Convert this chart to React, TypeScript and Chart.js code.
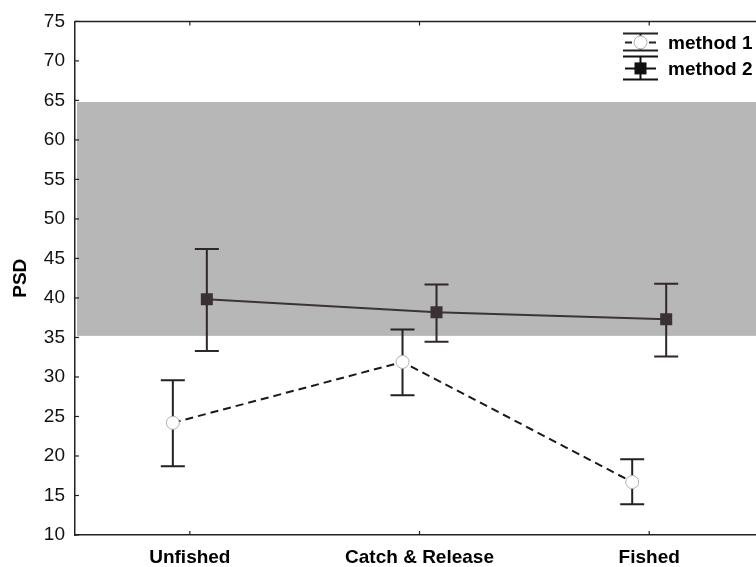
import React, { useEffect, useRef } from "react";
import { Chart, registerables } from "chart.js";

Chart.register(...registerables);

const categories = ["Unfished", "Catch & Release", "Fished"];
const seriesNames = ["method 1", "method 2"];
const method1Mean = [24.2, 31.9, 16.7];
const method1Low = [18.7, 27.7, 13.9];
const method1High = [29.6, 36.0, 19.6];
const method2Mean = [39.85, 38.2, 37.3];
const method2Low = [33.3, 34.45, 32.6];
const method2High = [46.2, 41.7, 41.8];
const bandRange = [35.2, 64.8];
const yTicks = [10, 15, 20, 25, 30, 35, 40, 45, 50, 55, 60, 65, 70, 75];

const DODGE = 0.074;
const FONT = "'Liberation Sans', Arial, sans-serif";

const series = [
  { mean: method1Mean, low: method1Low, high: method1High, off: -DODGE, color: "#222222" },
  { mean: method2Mean, low: method2Low, high: method2High, off: DODGE, color: "#2f2729" },
];

const decor = {
  id: "decor",
  beforeDatasetsDraw(chart: any) {
    const { ctx, chartArea, scales } = chart;
    const { left, right, top, bottom } = chartArea;
    const x = scales.x;
    const y = scales.y;
    ctx.save();
    // band
    const yb1 = y.getPixelForValue(bandRange[1]);
    const yb0 = y.getPixelForValue(bandRange[0]);
    ctx.fillStyle = "#b7b7b7";
    ctx.fillRect(left + 2, yb1, right - left - 2, yb0 - yb1);
    // top border
    ctx.strokeStyle = "#222";
    ctx.lineWidth = 1.5;
    ctx.beginPath();
    ctx.moveTo(left, top);
    ctx.lineTo(right, top);
    ctx.stroke();
    // inward ticks
    ctx.lineWidth = 1.2;
    yTicks.forEach((v) => {
      const py = y.getPixelForValue(v);
      ctx.beginPath();
      ctx.moveTo(left, py);
      ctx.lineTo(left + 4, py);
      ctx.stroke();
    });
    categories.forEach((_, i) => {
      const px = x.getPixelForValue(i);
      ctx.beginPath();
      ctx.moveTo(px, bottom);
      ctx.lineTo(px, bottom - 4);
      ctx.moveTo(px, top);
      ctx.lineTo(px, top + 4);
      ctx.stroke();
    });
    // error bars
    series.forEach((s) => {
      ctx.strokeStyle = s.color;
      ctx.lineWidth = 2;
      s.mean.forEach((_, i) => {
        const px = x.getPixelForValue(i + s.off);
        const pl = y.getPixelForValue(s.low[i]);
        const ph = y.getPixelForValue(s.high[i]);
        ctx.beginPath();
        ctx.moveTo(px, pl);
        ctx.lineTo(px, ph);
        ctx.moveTo(px - 12, pl);
        ctx.lineTo(px + 12, pl);
        ctx.moveTo(px - 12, ph);
        ctx.lineTo(px + 12, ph);
        ctx.stroke();
      });
    });
    ctx.restore();
  },
  afterDraw(chart: any) {
    const { ctx, chartArea } = chart;
    const { right, top } = chartArea;
    ctx.save();
    const x0 = right - 133;
    const x1 = right - 98;
    const xc = (x0 + x1) / 2;
    // method 1 legend icon
    ctx.strokeStyle = "#222";
    ctx.lineWidth = 2;
    const c1 = top + 21;
    ctx.beginPath();
    ctx.moveTo(x0, c1 - 9);
    ctx.lineTo(x1, c1 - 9);
    ctx.moveTo(x0, c1 + 8);
    ctx.lineTo(x1, c1 + 8);
    ctx.moveTo(xc, c1 - 9);
    ctx.lineTo(xc, c1 + 8);
    ctx.moveTo(x0 + 2, c1);
    ctx.lineTo(x0 + 9, c1);
    ctx.moveTo(x1 - 9, c1);
    ctx.lineTo(x1 - 2, c1);
    ctx.stroke();
    ctx.fillStyle = "#fff";
    ctx.strokeStyle = "#b0b0b0";
    ctx.lineWidth = 1;
    ctx.beginPath();
    ctx.arc(xc, c1, 6.5, 0, Math.PI * 2);
    ctx.fill();
    ctx.stroke();
    // method 2 legend icon
    const c2 = top + 47;
    ctx.strokeStyle = "#111";
    ctx.lineWidth = 2;
    ctx.beginPath();
    ctx.moveTo(x0, c2 - 12);
    ctx.lineTo(x1, c2 - 12);
    ctx.moveTo(x0, c2 + 11);
    ctx.lineTo(x1, c2 + 11);
    ctx.moveTo(xc, c2 - 12);
    ctx.lineTo(xc, c2 + 11);
    ctx.moveTo(x0 + 2, c2);
    ctx.lineTo(x1 - 2, c2);
    ctx.stroke();
    ctx.fillStyle = "#111";
    ctx.fillRect(xc - 6, c2 - 6, 12, 12);
    // texts
    ctx.fillStyle = "#000";
    ctx.font = `bold 19px ${FONT}`;
    ctx.textBaseline = "middle";
    ctx.textAlign = "left";
    ctx.fillText(seriesNames[0], right - 88, c1 + 1);
    ctx.fillText(seriesNames[1], right - 88, c2 + 1);
    ctx.restore();
  },
};

export default function App() {
  const ref = useRef<HTMLCanvasElement>(null);
  useEffect(() => {
    document.body.style.margin = "0";
    const canvas = ref.current;
    if (!canvas) return;
    const chart = new Chart(canvas, {
      type: "line",
      data: {
        datasets: [
          {
            label: seriesNames[0],
            data: method1Mean.map((v, i) => ({ x: i - DODGE, y: v })),
            borderColor: "#1a1a1a",
            borderDash: [8, 5],
            borderWidth: 2,
            pointRadius: 6.5,
            pointHoverRadius: 6.5,
            pointBackgroundColor: "#ffffff",
            pointBorderColor: "#b0b0b0",
            pointBorderWidth: 1,
            tension: 0,
          },
          {
            label: seriesNames[1],
            data: method2Mean.map((v, i) => ({ x: i + DODGE, y: v })),
            borderColor: "#3b3335",
            borderWidth: 2,
            pointStyle: "rect",
            pointRadius: 8.5,
            pointHoverRadius: 8.5,
            pointBackgroundColor: "#3b3033",
            pointBorderColor: "#3b3033",
            pointBorderWidth: 0,
            tension: 0,
          },
        ],
      },
      options: {
        animation: false,
        responsive: false,
        events: [],
        layout: { autoPadding: false, padding: { top: 19, right: 0, left: 0, bottom: 0 } },
        plugins: { legend: { display: false }, tooltip: { enabled: false } },
        scales: {
          x: {
            type: "linear",
            min: -0.5,
            max: 2.465,
            afterBuildTicks: (s: any) => {
              s.ticks = categories.map((_, i) => ({ value: i }));
            },
            afterFit: (s: any) => {
              s.height = 32;
            },
            ticks: {
              callback: (v: any) => categories[v as number] ?? "",
              font: { family: FONT, size: 19, weight: "bold" },
              color: "#000",
              padding: 11,
              maxRotation: 0,
              autoSkip: false,
            },
            grid: { display: false, drawTicks: false },
            border: { display: true, color: "#222", width: 1.5 },
          },
          y: {
            type: "linear",
            min: 10,
            max: 75,
            afterBuildTicks: (s: any) => {
              s.ticks = yTicks.map((v) => ({ value: v }));
            },
            afterFit: (s: any) => {
              s.width = 75;
            },
            ticks: {
              font: { family: FONT, size: 19 },
              color: "#111",
              padding: 10,
            },
            grid: { display: false, drawTicks: false },
            border: { display: true, color: "#222", width: 1.5 },
            title: {
              display: true,
              text: "PSD",
              font: { family: FONT, size: 19, weight: "bold" },
              color: "#000",
              padding: { top: 9, bottom: 0 },
            },
          },
        },
      },
      plugins: [decor],
    });
    return () => chart.destroy();
  }, []);
  return (
    <div style={{ width: 756, height: 567, overflow: "hidden" }}>
      <canvas ref={ref} width={756} height={567} style={{ display: "block" }} />
    </div>
  );
}
